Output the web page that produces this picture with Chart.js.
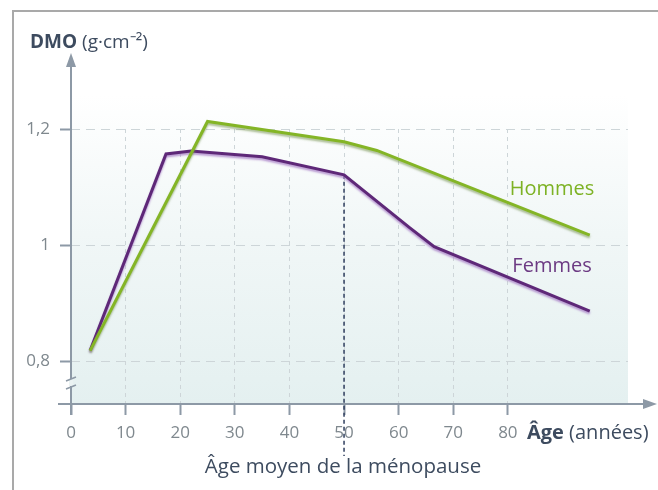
<!DOCTYPE html>
<html>
<head>
<meta charset="utf-8">
<script src="https://cdn.jsdelivr.net/npm/chart.js@4"></script>
<style>
  body { margin: 0; background: #fff; }
  canvas { display: block; }
</style>
</head>
<body>
<canvas id="dmo" width="658" height="490"></canvas>
<script>
// valeurs
const ageHommes = [3.5, 25, 50, 56, 95];
const dmoHommes = [0.818, 1.213, 1.178, 1.163, 1.017];
const ageFemmes = [3.5, 17.4, 22, 35, 50, 62, 66.5, 95];
const dmoFemmes = [0.818, 1.157, 1.162, 1.152, 1.121, 1.03, 0.997, 0.886];
const xTicks = [0, 10, 20, 30, 40, 50, 60, 70, 80];
const yTicks = [0.8, 1, 1.2];
const yTickLabels = ['0,8', '1', '1,2'];
const ageMenopause = 50;

const textDark = '#3d4b5f';
const axisColor = '#8d99a6';

const toPoints = (xs, ys) => xs.map((x, i) => ({ x: x, y: ys[i] }));

const decor = {
  id: 'decor',
  beforeDraw(chart) {
    const { ctx, chartArea: a } = chart;
    ctx.save();
    // cadre
    ctx.strokeStyle = '#a9a9a9';
    ctx.lineWidth = 2;
    ctx.beginPath();
    ctx.moveTo(13, 490); ctx.lineTo(13, 11); ctx.lineTo(658, 11);
    ctx.stroke();
    // fond dégradé
    const g = ctx.createLinearGradient(0, 95, 0, a.bottom);
    g.addColorStop(0, '#ffffff');
    g.addColorStop(0.45, '#f1f7f7');
    g.addColorStop(1, '#e4f0f0');
    ctx.fillStyle = g;
    ctx.fillRect(a.left, 95, a.right - a.left, a.bottom - 95);
    ctx.restore();
  },
  beforeDatasetsDraw(chart) {
    const { ctx, chartArea: a, scales } = chart;
    ctx.save();
    ctx.strokeStyle = axisColor;
    ctx.fillStyle = axisColor;
    ctx.lineWidth = 2;
    // axe vertical
    ctx.beginPath();
    ctx.moveTo(a.left, a.bottom + 11); ctx.lineTo(a.left, 64);
    ctx.stroke();
    ctx.beginPath();
    ctx.moveTo(a.left, 53); ctx.lineTo(a.left - 5, 67); ctx.lineTo(a.left + 5, 67);
    ctx.closePath(); ctx.fill();
    // axe horizontal
    ctx.beginPath();
    ctx.moveTo(58, a.bottom); ctx.lineTo(646, a.bottom);
    ctx.stroke();
    ctx.beginPath();
    ctx.moveTo(657, a.bottom); ctx.lineTo(643, a.bottom - 5); ctx.lineTo(643, a.bottom + 5);
    ctx.closePath(); ctx.fill();
    // coupure de l'axe
    ctx.fillStyle = '#ebf3f3';
    ctx.fillRect(a.left - 2, 379, 4, 7);
    ctx.lineWidth = 1.5;
    ctx.beginPath();
    ctx.moveTo(a.left - 5, 381); ctx.lineTo(a.left + 5, 377);
    ctx.moveTo(a.left - 5, 389); ctx.lineTo(a.left + 5, 385);
    ctx.stroke();
    // ménopause
    const xm = scales.x.getPixelForValue(ageMenopause);
    const ym = scales.y.getPixelForValue(dmoFemmes[ageFemmes.indexOf(ageMenopause)]);
    ctx.strokeStyle = '#2f3e5e';
    ctx.lineWidth = 1.5;
    ctx.setLineDash([4, 3]);
    ctx.beginPath();
    ctx.moveTo(xm, ym); ctx.lineTo(xm, 456);
    ctx.stroke();
    ctx.restore();
  },
  beforeDatasetDraw(chart, args) {
    const ds = chart.data.datasets[args.index];
    chart.ctx.save();
    chart.ctx.shadowColor = ds.shadowColor;
    chart.ctx.shadowOffsetY = 2;
    chart.ctx.shadowBlur = 2;
  },
  afterDatasetDraw(chart) {
    chart.ctx.restore();
  },
  afterDraw(chart) {
    const ctx = chart.ctx;
    ctx.save();
    ctx.textBaseline = 'alphabetic';
    ctx.textAlign = 'left';
    // titre axe y
    ctx.fillStyle = textDark;
    ctx.font = 'bold 19px "Open Sans"';
    ctx.fillText('DMO', 30, 48);
    let w = ctx.measureText('DMO ').width;
    ctx.font = '19px "Open Sans"';
    ctx.fillText('(g·cm⁻²)', 30 + w, 48);
    // titre axe x
    ctx.font = 'bold 20px "Open Sans"';
    ctx.fillText('Âge', 527, 439);
    w = ctx.measureText('Âge ').width;
    ctx.font = '20px "Open Sans"';
    ctx.fillText('(années)', 527 + w, 439);
    // ménopause
    ctx.textAlign = 'center';
    ctx.font = '20.5px "Open Sans"';
    ctx.fillText('Âge moyen de la ménopause', 343, 473);
    // séries
    ctx.font = '20px "Open Sans"';
    ctx.fillStyle = '#7db224';
    ctx.fillText('Hommes', 552, 195);
    ctx.fillStyle = '#6c3a83';
    ctx.fillText('Femmes', 552, 272);
    ctx.restore();
  }
};

new Chart(document.getElementById('dmo'), {
  type: 'line',
  data: {
    datasets: [
      {
        label: 'Hommes',
        data: toPoints(ageHommes, dmoHommes),
        borderColor: '#84b526',
        shadowColor: 'rgba(110,140,70,0.55)',
        borderWidth: 3,
        pointRadius: 0,
        tension: 0,
        clip: false
      },
      {
        label: 'Femmes',
        data: toPoints(ageFemmes, dmoFemmes),
        borderColor: '#5e2878',
        shadowColor: 'rgba(170,130,200,0.8)',
        borderWidth: 3,
        pointRadius: 0,
        tension: 0,
        clip: false
      }
    ]
  },
  options: {
    responsive: false,
    animation: false,
    layout: { padding: { top: 129, right: 30, left: 0, bottom: 0 } },
    plugins: { legend: { display: false }, tooltip: { enabled: false } },
    scales: {
      x: {
        type: 'linear',
        min: 0,
        max: 102,
        afterBuildTicks: s => { s.ticks = xTicks.map(v => ({ value: v })); },
        afterFit: s => { s.height = 86; },
        ticks: { autoSkip: false, padding: 8, color: '#7f888e', font: { family: 'Open Sans', size: 17 } },
        grid: {
          color: c => (c.tick && c.tick.value === 0) ? 'rgba(0,0,0,0)' : '#cdd5d8',
          lineWidth: 1,
          tickLength: 11,
          tickColor: axisColor,
          tickWidth: 2,
          tickBorderDash: []
        },
        border: { display: false, dash: [4, 4] }
      },
      y: {
        type: 'linear',
        min: 0.7259,
        max: 1.2,
        afterBuildTicks: s => { s.ticks = yTicks.map(v => ({ value: v })); },
        afterFit: s => { s.width = 71; },
        ticks: {
          padding: 10,
          color: '#7f888e',
          font: { family: 'Open Sans', size: 17 },
          callback: v => yTickLabels[yTicks.indexOf(v)]
        },
        grid: {
          color: '#cdd5d8',
          lineWidth: 1,
          tickLength: 11,
          tickColor: axisColor,
          tickWidth: 2,
          tickBorderDash: []
        },
        border: { display: false, dash: [9, 6] }
      }
    }
  },
  plugins: [decor]
});
</script>
</body>
</html>
